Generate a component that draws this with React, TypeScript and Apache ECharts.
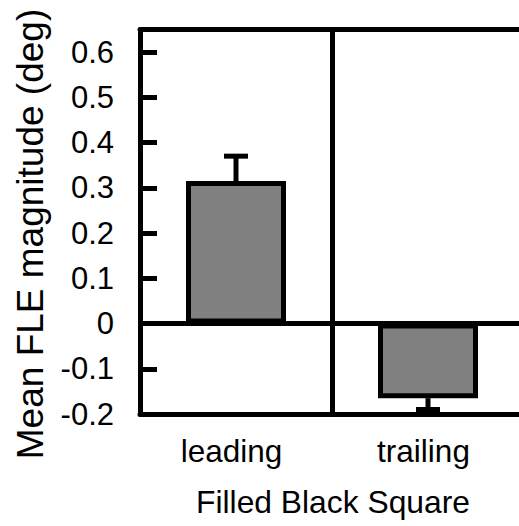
import React, { useEffect, useRef } from "react";
import * as echarts from "echarts";

const categories = ["leading", "trailing"];
const meanValues = [0.315, -0.165];
const errorEnds = [0.37, -0.19];
const tickValues = [-0.2, -0.1, 0, 0.1, 0.2, 0.3, 0.4, 0.5, 0.6];
const tickLabels = ["-0.2", "-0.1", "0", "0.1", "0.2", "0.3", "0.4", "0.5", "0.6"];
const yTitle = "Mean FLE magnitude (deg)";
const xTitle = "Filled Black Square";

const FONT = "'Liberation Sans', Arial, Helvetica, sans-serif";

export default function App() {
  const ref = useRef<HTMLDivElement>(null);
  useEffect(() => {
    if (!ref.current) return;
    const chart = echarts.init(ref.current, undefined, { renderer: "svg" });
    const errData = categories.map((c, i) => [i, meanValues[i], errorEnds[i]]);
    chart.setOption({
      animation: false,
      backgroundColor: "#ffffff",
      grid: { left: 140, right: 0, top: 29.5, bottom: 112, containLabel: false },
      xAxis: [
        {
          type: "category",
          data: categories,
          position: "bottom",
          boundaryGap: true,
          axisLine: { show: true, onZero: false, lineStyle: { color: "#000", width: 5 } },
          axisTick: { show: false },
          splitLine: { show: true, interval: 0, lineStyle: { color: "#000", width: 5 } },
          axisLabel: {
            color: "#000",
            fontSize: 31.5,
            fontFamily: FONT,
            margin: 21,
            interval: 0,
            padding: [0, 9, 0, 0],
          },
          name: xTitle,
          nameLocation: "middle",
          nameGap: 72,
          nameTextStyle: { color: "#000", fontSize: 31.8, fontFamily: FONT, padding: [0, 0, 0, 2] },
        },
        {
          type: "category",
          data: categories,
          position: "top",
          axisLine: { show: true, onZero: false, lineStyle: { color: "#000", width: 5 } },
          axisTick: { show: false },
          axisLabel: { show: false },
          splitLine: { show: false },
        },
      ],
      yAxis: {
        type: "value",
        min: -0.2,
        max: 0.65,
        interval: 0.1,
        axisLine: { show: true, lineStyle: { color: "#000", width: 5 } },
        axisTick: {
          show: true,
          inside: true,
          length: 17,
          lineStyle: { color: "#000", width: 5 },
          customValues: tickValues,
        },
        axisLabel: {
          color: "#000",
          fontSize: 31,
          fontFamily: FONT,
          margin: 26,
          customValues: tickValues,
          formatter: (v: number) => {
            const idx = tickValues.findIndex((t) => Math.abs(t - v) < 1e-6);
            return idx >= 0 ? tickLabels[idx] : "";
          },
        },
        splitLine: { show: false },
      },
      graphic: [
        {
          type: "text",
          x: 30,
          y: 234,
          rotation: Math.PI / 2,
          style: {
            text: yTitle,
            fontSize: 37,
            fontFamily: FONT,
            fill: "#000",
            align: "center",
            verticalAlign: "middle",
          },
        },
      ],
      series: [
        {
          type: "bar",
          data: meanValues,
          barWidth: 100,
          itemStyle: { color: "#808080", borderColor: "#000", borderWidth: 5 },
          markLine: {
            silent: true,
            symbol: "none",
            label: { show: false },
            lineStyle: { color: "#000", width: 5, type: "solid" },
            data: [{ yAxis: 0 }],
          },
          z: 2,
        },
        {
          type: "custom",
          data: errData,
          z: 3,
          renderItem: (params: any, api: any) => {
            const p0 = api.coord([api.value(0), api.value(1)]);
            const p1 = api.coord([api.value(0), api.value(2)]);
            const half = 12;
            const style = { stroke: "#000", lineWidth: 5 };
            return {
              type: "group",
              children: [
                { type: "line", shape: { x1: p0[0], y1: p0[1], x2: p1[0], y2: p1[1] }, style },
                { type: "line", shape: { x1: p1[0] - half, y1: p1[1], x2: p1[0] + half, y2: p1[1] }, style },
              ],
            };
          },
        },
      ],
    });
    return () => chart.dispose();
  }, []);
  return (
    <div
      ref={ref}
      style={{ position: "fixed", left: 0, top: 0, width: 524, height: 526 }}
    />
  );
}
